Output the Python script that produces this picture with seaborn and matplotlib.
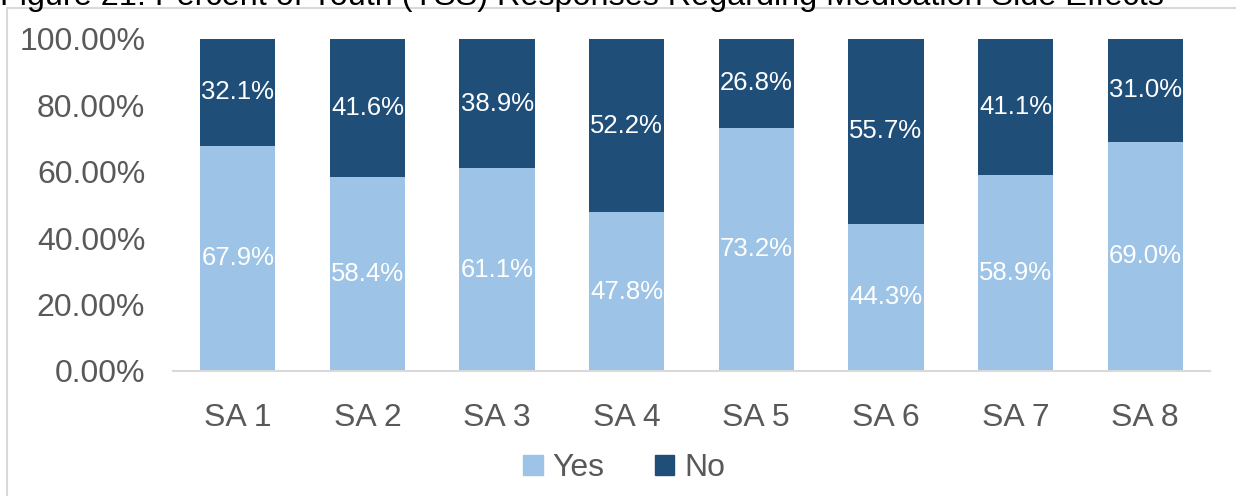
import matplotlib
matplotlib.use("Agg")
import matplotlib.pyplot as plt
import seaborn as sns
import pandas as pd
from matplotlib.patches import Rectangle, Patch

categories = ["SA 1", "SA 2", "SA 3", "SA 4", "SA 5", "SA 6", "SA 7", "SA 8"]
yes_vals = [67.9, 58.4, 61.1, 47.8, 73.2, 44.3, 58.9, 69.0]
no_vals = [32.1, 41.6, 38.9, 52.2, 26.8, 55.7, 41.1, 31.0]
y_ticks = [0, 20, 40, 60, 80, 100]
title = "Figure 21: Percent of Youth (YSS) Responses Regarding Medication Side Effects"

YES_C = "#9DC3E6"
NO_C = "#1F4E79"
GRAY = "#595959"

sns.set_theme(style="white")
plt.rcParams["font.family"] = ["Liberation Sans", "DejaVu Sans"]

df = pd.DataFrame({"cat": categories, "yes": yes_vals, "no": no_vals})
df["total"] = df["yes"] + df["no"]

fig = plt.figure(figsize=(12.36, 4.96), dpi=100)
ax = fig.add_axes([173/1236, 1 - 371/496, (1210 - 173)/1236, (371 - 39)/496])

sns.barplot(data=df, x="cat", y="total", color=NO_C, width=0.58, ax=ax,
            saturation=1, linewidth=0)
sns.barplot(data=df, x="cat", y="yes", color=YES_C, width=0.58, ax=ax,
            saturation=1, linewidth=0)

for i, (y, n) in enumerate(zip(yes_vals, no_vals)):
    ax.text(i, y / 2, f"{y:.1f}%", ha="center", va="center", color="white", fontsize=18.5)
    ax.text(i, y + n / 2, f"{n:.1f}%", ha="center", va="center", color="white", fontsize=18.5)

ax.set_xlim(-0.5, len(categories) - 0.5)
ax.set_ylim(0, 100)
ax.set_yticks(y_ticks)
ax.set_yticklabels([f"{t:.2f}%" for t in y_ticks])
ax.set_xlabel("")
ax.set_ylabel("")
ax.tick_params(axis="both", length=0, labelsize=23, colors=GRAY)
ax.tick_params(axis="x", pad=23)
ax.tick_params(axis="y", pad=20)
for s in ["top", "right", "left"]:
    ax.spines[s].set_visible(False)
ax.spines["bottom"].set_color("#D9D9D9")
ax.spines["bottom"].set_linewidth(1.5)
ax.grid(False)

# chart border
fig.patches.append(Rectangle((7/1236, -0.1), 1.2, 1 - 8/496 + 0.1,
                             transform=fig.transFigure, fill=False,
                             edgecolor="#D9D9D9", linewidth=1.5, zorder=0))

fig.text(0.0, 1 - 5/496, title, ha="left", va="baseline", fontsize=23.3, color="black")

handles = [Patch(color=YES_C, label="Yes"), Patch(color=NO_C, label="No")]
leg = fig.legend(handles=handles, loc="center", bbox_to_anchor=(0.505, 1 - 468/496),
                 ncol=2, frameon=False, fontsize=23, handlelength=0.6, handleheight=0.6,
                 handletextpad=0.3, columnspacing=1.6)
for t in leg.get_texts():
    t.set_color(GRAY)

fig.savefig("out.png", dpi=100)
